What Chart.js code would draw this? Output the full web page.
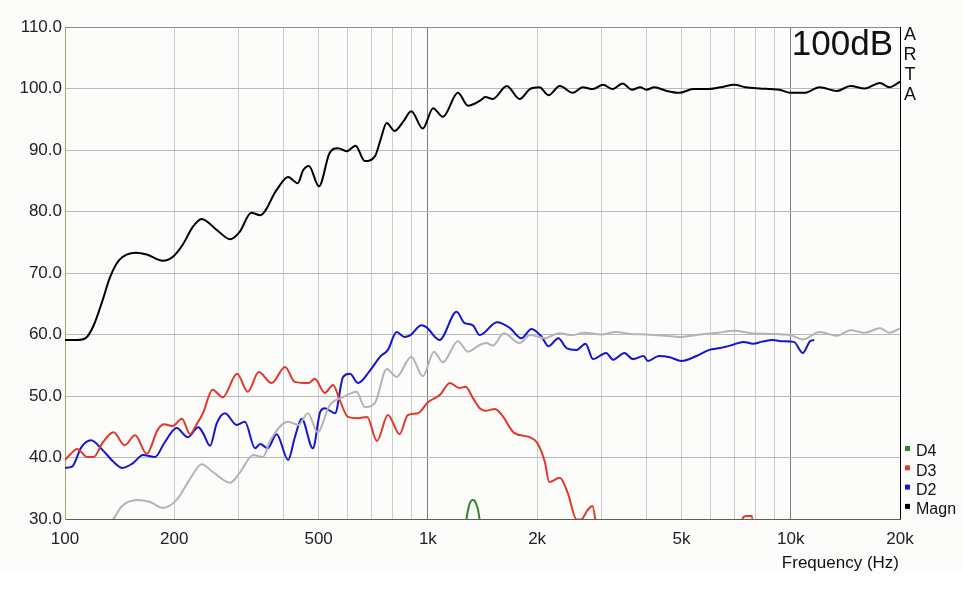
<!DOCTYPE html>
<html>
<head>
<meta charset="utf-8">
<script src="https://cdn.jsdelivr.net/npm/chart.js@4.4.1/dist/chart.umd.min.js"></script>
<style>
  html, body { margin: 0; padding: 0; background: #ffffff; }
  #wrap { width: 962px; height: 600px; }
</style>
</head>
<body>
<div id="wrap"><canvas id="arta" width="962" height="600"></canvas></div>
<script>
// frequency grid and labels
const gridFreqs = [100,200,300,400,500,600,700,800,900,1000,2000,3000,4000,5000,6000,7000,8000,9000,10000,20000];
const freqLabels = {100:"100",200:"200",500:"500",1000:"1k",2000:"2k",5000:"5k",10000:"10k",20000:"20k"};

// Magn (black)
const magnFreq = [100,108,114,120,127,133,141,157,168,186,198,211,225,238,262,285,303,326,345,383,412,438,453,470,501,536,565,597,632,670,715,740,770,810,855,900,968,1034,1100,1210,1290,1390,1440,1510,1650,1790,1910,2030,2150,2310,2510,2670,2850,3040,3230,3440,3650,3850,4000,4210,4550,4930,5380,5900,6400,7000,7500,8200,8800,9300,9970,10900,12000,13400,14600,16000,17600,18700,20000];
const magnDb = [59.1,59.1,59.4,61.5,65.6,69.3,72.1,73.3,73.0,72.0,72.6,74.6,77.5,78.8,77.0,75.5,76.7,79.8,79.4,83.5,85.6,84.6,86.7,87.4,84.1,89.5,90.3,89.8,90.7,88.2,89.0,91.6,94.4,93.1,94.6,96.3,93.5,96.8,95.4,99.3,97.2,98.0,98.6,98.3,100.4,98.3,99.9,100.2,98.9,100.4,99.3,100.2,99.9,100.6,99.9,100.8,99.8,100.2,99.8,100.2,99.6,99.3,99.9,99.9,100.2,100.6,100.2,100.0,99.9,99.8,99.3,99.3,100.2,99.6,100.4,100.0,100.9,100.2,101.1];

// D2 (blue)
const d2Freq = [100,104.5,111,118,127,136,144,154,164,177,188,203,218,233,240,251,262,276,297,313,334,345,362,383,412,430,449,482,505,520,555,584,610,642,690,739,776,820,862,890,961,990,1077,1200,1260,1330,1390,1550,1680,1810,1930,2060,2150,2290,2410,2570,2720,2850,3100,3240,3480,3670,3930,4040,4330,4640,5000,5500,5960,6380,6900,7400,7870,8300,8930,9500,10200,10800,11300,11600];
const d2Db = [38.3,38.5,41.7,42.8,41.2,39.3,38.3,39.1,40.4,40.1,42.4,44.8,43.3,44.9,44.0,41.9,45.6,47.2,45.3,45.8,41.5,42.2,41.5,43.8,39.6,43.3,46.3,41.5,47.4,48.0,47.2,53.1,53.6,52.1,54.0,56.4,57.5,60.4,59.6,59.8,61.5,61.2,59.1,63.7,61.9,61.5,59.9,62.0,61.1,59.4,60.9,59.6,58.1,59.4,57.8,57.5,58.5,56.0,57.0,55.9,57.0,56.0,56.5,55.7,56.5,56.3,55.7,56.5,57.5,57.8,58.3,58.8,58.5,58.8,59.1,58.9,58.8,57.0,58.9,59.1];

// D3 (red)
const d3Freq = [100,103,108,115,120,127,136,146,156,168,180,188,198,210,221,230,240,255,272,298,319,342,371,404,430,470,488,520,548,572,602,642,680,724,776,836,880,940,1000,1080,1150,1220,1270,1330,1390,1440,1530,1600,1730,1910,2000,2100,2160,2310,2430,2570,2640,2760,2840,2900,2960,3500,6000,7200,7400,7600,7830,7900,9000];
const d3Db = [39.6,40.4,41.4,40.1,40.1,42.4,44.1,42.0,43.6,40.6,44.5,45.4,45.1,46.3,43.8,45.3,47.2,51.0,49.8,53.6,50.7,53.9,52.1,54.7,52.3,52.1,52.8,50.5,51.8,49.3,46.6,46.4,46.6,42.7,46.9,43.8,46.9,47.2,49.0,50.2,52.1,51.3,51.5,49.7,48.0,47.6,47.9,46.9,44.0,43.3,42.4,39.3,36.0,36.7,34.2,29.9,29.9,31.5,32.1,29.5,25.0,15.0,15.0,27.0,30.3,30.5,30.5,20.0,15.0];

// D4 (green)
const d4Freq = [1240,1275,1300,1330,1360,1390,1420];
const d4Db = [20.0,29.5,32.3,33.1,32.4,29.5,20.0];

// overlay trace (grey, no legend entry)
const refFreq = [100,120,136,143,158,171,186,203,222,238,256,285,303,330,351,368,412,440,467,497,536,584,636,670,715,770,820,900,968,1040,1100,1210,1290,1390,1450,1510,1620,1790,1910,2100,2300,2500,2700,3000,3300,3600,4000,4500,5000,5600,6300,7000,7800,8800,9970,10800,12000,13400,14600,16000,17600,18700,20000];
const refDb = [25.0,27.0,30.0,32.0,33.1,32.8,31.8,33.1,36.7,38.9,37.6,35.9,37.5,40.4,40.1,42.8,45.8,45.3,47.2,44.1,48.5,49.8,50.7,48.2,48.9,54.4,53.1,56.4,53.2,57.2,55.5,58.9,57.2,58.3,58.6,58.2,60.2,58.6,59.9,59.4,60.2,59.9,60.3,60.0,60.4,60.1,60.0,59.8,59.6,60.0,60.3,60.6,60.2,60.1,59.9,59.2,60.4,59.8,60.7,60.3,61.0,60.3,61.0];

function pts(fs, ys) { return fs.map((f, i) => ({x: f, y: ys[i]})); }

function series(label, fs, ys, color, width) {
  return {
    label: label,
    data: pts(fs, ys),
    borderColor: color,
    backgroundColor: color,
    borderWidth: width,
    pointRadius: 0,
    fill: false,
    cubicInterpolationMode: 'monotone'
  };
}

const artaDecor = {
  id: 'artaDecor',
  beforeDraw(chart) {
    const c = chart.ctx;
    c.save();
    c.fillStyle = '#fcfcfa';
    c.fillRect(0, 0, chart.width, 574);
    c.restore();
  },
  afterDraw(chart) {
    const c = chart.ctx;
    const a = chart.chartArea;
    c.save();
    c.fillStyle = '#111';
    c.textBaseline = 'alphabetic';
    c.textAlign = 'right';
    c.font = '35px "Liberation Sans", Arial, sans-serif';
    c.fillText('100dB', a.right - 7, 55);

    c.textAlign = 'center';
    c.textBaseline = 'middle';
    c.font = '18px "Liberation Sans", Arial, sans-serif';
    ['A','R','T','A'].forEach((ch, i) => c.fillText(ch, a.right + 10, 35 + i * 20));

    c.textAlign = 'right';
    c.font = '17px "Liberation Sans", Arial, sans-serif';
    c.fillText('Frequency (Hz)', a.right - 1, 563);

    // legend
    const items = chart.data.datasets.filter(d => d.label);
    c.textAlign = 'left';
    c.font = '16px "Liberation Sans", Arial, sans-serif';
    items.forEach((d, i) => {
      const y = 451 + i * 19.3;
      c.fillStyle = d.borderColor;
      c.fillRect(a.right + 5, y - 5, 5, 5);
      c.fillStyle = '#111';
      c.fillText(d.label, a.right + 16, y + 1);
    });
    c.restore();
  }
};

const tickFont = {family: '"Liberation Sans", Arial, sans-serif', size: 17};

new Chart("arta", {
  type: "line",
  data: {
    datasets: [
      series('', refFreq, refDb, '#b4b4b4', 2),
      series('D4', d4Freq, d4Db, '#2a8a2a', 2),
      series('D3', d3Freq, d3Db, '#e0392b', 2),
      series('D2', d2Freq, d2Db, '#1414d2', 2),
      series('Magn', magnFreq, magnDb, '#000000', 2)
    ]
  },
  options: {
    responsive: false,
    animation: false,
    layout: {padding: {left: 0, top: 27, right: 62, bottom: 0}},
    plugins: {
      legend: {display: false},
      tooltip: {enabled: false}
    },
    scales: {
      x: {
        type: 'logarithmic',
        min: 100,
        max: 20000,
        afterFit: s => { s.height = 81; },
        afterBuildTicks: s => { s.ticks = gridFreqs.map(v => ({value: v})); },
        ticks: {
          autoSkip: false,
          maxRotation: 0,
          padding: 10,
          color: '#222',
          font: tickFont,
          callback: v => freqLabels[v] || ''
        },
        grid: {
          drawTicks: false,
          color: ctx => {
            const v = ctx.tick && ctx.tick.value;
            if (v === 20000) return '#000000';
            if (v === 1000 || v === 10000) return '#7c7c7c';
            if (v === 100) return '#a5a560';
            return '#cbcbcb';
          }
        },
        border: {color: '#5e5e4c', width: 1}
      },
      y: {
        min: 30,
        max: 110,
        afterFit: s => { s.width = 65; },
        ticks: {
          stepSize: 10,
          padding: 3,
          color: '#222',
          font: tickFont,
          callback: v => v.toFixed(1)
        },
        grid: {
          drawTicks: false,
          color: ctx => {
            const v = ctx.tick && ctx.tick.value;
            if (v === 110) return '#8a8a8a';
            return '#b9b9b9';
          }
        },
        border: {color: '#a5a560', width: 1}
      }
    }
  },
  plugins: [artaDecor]
});
</script>
</body>
</html>
